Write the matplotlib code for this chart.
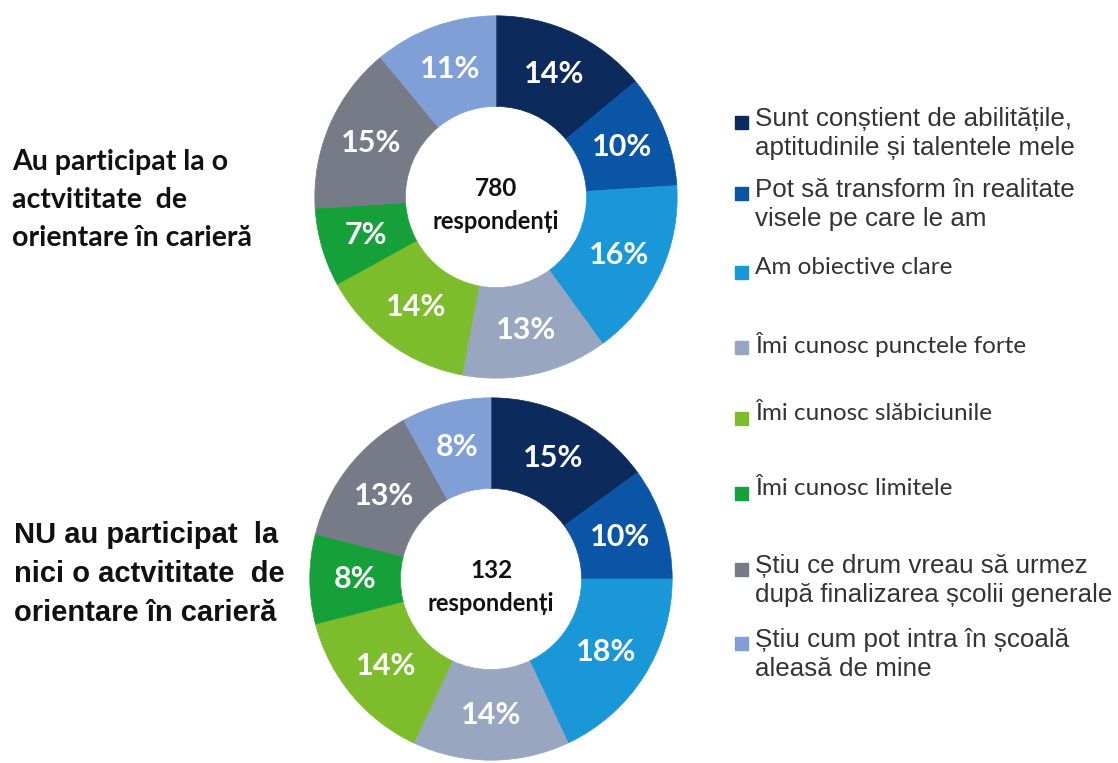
import matplotlib
matplotlib.use("Agg")
import matplotlib.pyplot as plt
from matplotlib.patches import Rectangle

# Data
categories = [
    "Sunt conștient de abilitățile,\naptitudinile și talentele mele",
    "Pot să transform în realitate\nvisele pe care le am",
    "Am obiective clare",
    "Îmi cunosc punctele forte",
    "Îmi cunosc slăbiciunile",
    "Îmi cunosc limitele",
    "Știu ce drum vreau să urmez\ndupă finalizarea școlii generale",
    "Știu cum pot intra în școală\naleasă de mine",
]
participated = [14, 10, 16, 13, 14, 7, 15, 11]
not_participated = [15, 10, 18, 14, 14, 8, 13, 8]
respondents = [780, 132]
group_labels = [
    "Au participat la o\nactvititate  de\norientare în carieră",
    "NU au participat  la\nnici o actvititate  de\norientare în carieră",
]

colors = ["#0c2a5c", "#0b55a6", "#1a97d9", "#98a6bf",
          "#7dbd2c", "#15a03a", "#777b88", "#7f9fd6"]

W, H = 1118, 763
fig = plt.figure(figsize=(W / 100, H / 100), dpi=100)


def donut_axes(cx, cy, r):
    # place a square axes from pixel centre and radius
    return fig.add_axes([(cx - r) / W, 1 - (cy + r) / H, 2 * r / W, 2 * r / H])


def draw_donut(ax, values, total):
    wedges, _, autotexts = ax.pie(
        values, colors=colors, startangle=90, counterclock=False,
        radius=1, autopct=lambda p: f"{p:.0f}%", pctdistance=0.75,
        wedgeprops=dict(width=0.5, linewidth=0.5, edgecolor="white"))
    for w, c in zip(wedges, colors):
        w.set_edgecolor(c)
    for t in autotexts:
        t.set_color("white")
        t.set_fontsize(22)
        t.set_fontweight("bold")
        t.set_family("Lato")
    ax.text(0, 0.045, str(total), ha="center", va="center", fontsize=17.5,
            fontweight="bold", family="Lato", color="#111111")
    ax.text(0, -0.135, "respondenți", ha="center", va="center", fontsize=17,
            fontweight="bold", family="Lato", color="#111111")
    ax.set_xlim(-1.01, 1.01)
    ax.set_ylim(-1.01, 1.01)
    ax.axis("off")


ax1 = donut_axes(496, 197, 183)
draw_donut(ax1, participated, respondents[0])
ax2 = donut_axes(491, 579, 183)
draw_donut(ax2, not_participated, respondents[1])

# left labels
fig.text(12 / W, 1 - 200 / H, group_labels[0], ha="left", va="center",
         fontsize=20.5, fontweight="bold", family="Lato", color="#111111",
         linespacing=1.55)
fig.text(14 / W, 1 - 574 / H, group_labels[1], ha="left", va="center",
         fontsize=21, fontweight="bold", family="Liberation Sans",
         color="#111111", linespacing=1.5)

# legend drawn by hand (uneven spacing in the original)
legend_y = [122, 193, 272, 347, 418, 493, 569, 643]
legend_fonts = ["Liberation Sans", "Liberation Sans", "Lato", "Lato",
                "Lato", "Lato", "Liberation Sans", "Liberation Sans"]
for label, c, y, fam in zip(categories, colors, legend_y, legend_fonts):
    fig.patches.append(Rectangle((735 / W, 1 - (y + 7) / H), 13 / W, 13 / H,
                                 transform=fig.transFigure, color=c))
    fig.text(755 / W, 1 - (y - 15) / H, label, ha="left", va="top",
             fontsize=17.5 if fam == "Lato" else 18.7,
             family=fam, color="#333333", linespacing=1.28)

plt.savefig("out.png", dpi=100)
